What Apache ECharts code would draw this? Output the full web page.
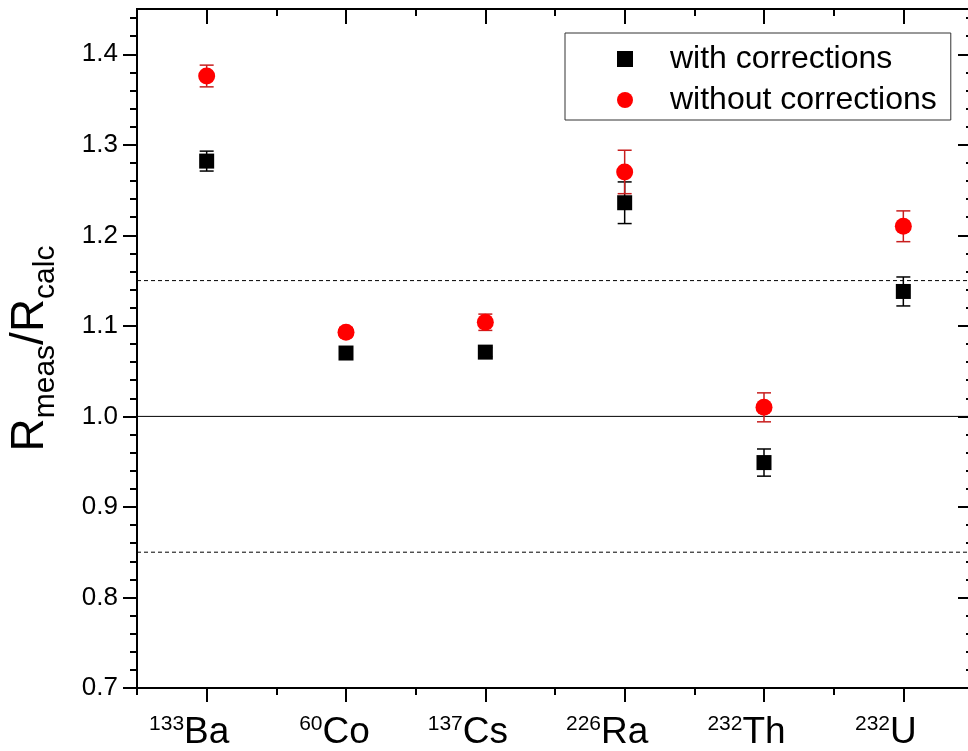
<!DOCTYPE html>
<html>
<head>
<meta charset="utf-8">
<title>R_meas / R_calc</title>
<script src="https://cdn.jsdelivr.net/npm/echarts@6/dist/echarts.min.js"></script>
<style>
  html, body { margin: 0; padding: 0; background: #fff; }
  #chart { width: 968px; height: 751px; }
</style>
</head>
<body>
<div id="chart"></div>
<script>
// nuclides on the x axis
const massNumbers = ['133', '60', '137', '226', '232', '232']
const elements = ['Ba', 'Co', 'Cs', 'Ra', 'Th', 'U']

// ratio R_meas / R_calc and its uncertainty
const withCorr = [1.282, 1.070, 1.071, 1.236, 0.949, 1.138]
const withCorrErr = [0.011, 0.005, 0.005, 0.023, 0.015, 0.016]
const withoutCorr = [1.376, 1.093, 1.104, 1.270, 1.010, 1.210]
const withoutCorrErr = [0.012, 0.005, 0.009, 0.024, 0.016, 0.017]

// reference lines
const unityLine = 1.0
const bandLines = [1.15, 0.85]

// y ticks
const yMajor = [0.7, 0.8, 0.9, 1.0, 1.1, 1.2, 1.3, 1.4]
const yMinor = []
for (let i = 36; i <= 72; i++) {
  if (i % 5 !== 0) yMinor.push(+(i * 0.02).toFixed(2))
}

const FONT = 'Liberation Sans, Arial, sans-serif'

const chart = echarts.init(document.getElementById('chart'))

const errData = (vals, errs) => vals.map((v, i) => [i, v - errs[i], v + errs[i]])

const errBar = (color) => (params, api) => {
  const x = api.value(0)
  const lo = api.coord([x, api.value(1)])
  const hi = api.coord([x, api.value(2)])
  const w = 7
  const style = { stroke: color, lineWidth: 1.5, fill: null }
  return {
    type: 'group',
    children: [
      { type: 'line', shape: { x1: lo[0], y1: lo[1], x2: hi[0], y2: hi[1] }, style },
      { type: 'line', shape: { x1: lo[0] - w, y1: lo[1], x2: lo[0] + w, y2: lo[1] }, style },
      { type: 'line', shape: { x1: hi[0] - w, y1: hi[1], x2: hi[0] + w, y2: hi[1] }, style },
    ],
  }
}

const axisLine = { show: true, lineStyle: { color: '#000', width: 2 } }
const tickStyle = { color: '#000', width: 2 }

const catAxis = (position, align, length, inside, labels) => ({
  type: 'category',
  position,
  data: elements,
  boundaryGap: true,
  axisLine,
  axisTick: { show: true, alignWithLabel: align, length, inside, lineStyle: tickStyle },
  axisLabel: labels || { show: false },
  splitLine: { show: false },
})

const valAxis = (position, ticks, length, inside, labels) => ({
  type: 'value',
  position,
  min: 0.7,
  max: 1.45,
  axisLine,
  axisTick: { show: true, customValues: ticks, length, inside, lineStyle: tickStyle },
  axisLabel: labels || { show: false },
  splitLine: { show: false },
})

const xLabels = {
  show: true,
  interval: 0,
  margin: 26,
  formatter: (val, idx) => {
    const m = massNumbers[idx]
    return '{sup|' + m + '}{b|' + val + '}{p' + m.length + '|}'
  },
  rich: {
    sup: { fontFamily: FONT, fontSize: 21, color: '#000', verticalAlign: 'top', lineHeight: 38 },
    b: { fontFamily: FONT, fontSize: 37, color: '#000', lineHeight: 38 },
    p2: { width: 23 },
    p3: { width: 35 },
  },
}

const yLabels = {
  show: true,
  customValues: yMajor,
  margin: 19,
  fontFamily: FONT,
  fontSize: 26,
  color: '#000',
  formatter: (v) => v.toFixed(1),
}

// horizontal reference line across the full plot width
const refLine = (v, type) => ({
  type: 'line',
  xAxisIndex: 4,
  yAxisIndex: 0,
  data: [[0, v], [1, v]],
  symbol: 'none',
  silent: true,
  lineStyle: { color: '#000', width: 1, type },
  z: 1,
})

chart.setOption({
  animation: false,
  backgroundColor: '#fff',
  grid: { left: 137, right: -5, top: 9, bottom: 63, containLabel: false, outerBoundsMode: 'none' },
  legend: {
    data: ['with corrections', 'without corrections'],
    orient: 'vertical',
    left: 565,
    top: 33,
    padding: [10, 14, 4, 52],
    itemWidth: 16,
    itemHeight: 16,
    itemGap: 9,
    backgroundColor: '#fff',
    borderColor: '#333',
    borderWidth: 1,
    borderRadius: 0,
    textStyle: { fontFamily: FONT, fontSize: 32, color: '#000', lineHeight: 30, padding: [0, 0, 0, 32] },
  },
  xAxis: [
    catAxis('bottom', true, 14, false, xLabels),
    catAxis('bottom', false, 7, false),
    catAxis('top', true, 15, true),
    catAxis('top', false, 7, true),
    { type: 'value', min: 0, max: 1, show: false },
  ],
  yAxis: [
    valAxis('left', yMajor, 14, false, yLabels),
    valAxis('left', yMinor, 7, false),
    valAxis('right', yMajor, 15, true),
    valAxis('right', yMinor, 7, true),
  ],
  series: [
    refLine(unityLine, 'solid'),
    ...bandLines.map((v) => refLine(v, [4, 3])),
    {
      name: 'err with',
      type: 'custom',
      renderItem: errBar('#000'),
      data: errData(withCorr, withCorrErr),
      encode: { x: 0, y: [1, 2] },
      z: 2,
      silent: true,
    },
    {
      name: 'err without',
      type: 'custom',
      renderItem: errBar('#c81e1e'),
      data: errData(withoutCorr, withoutCorrErr),
      encode: { x: 0, y: [1, 2] },
      z: 2,
      silent: true,
    },
    {
      name: 'with corrections',
      type: 'scatter',
      symbol: 'rect',
      symbolSize: 15,
      itemStyle: { color: '#000', opacity: 1 },
      data: withCorr.map((v, i) => [i, v]),
      z: 4,
    },
    {
      name: 'without corrections',
      type: 'scatter',
      symbol: 'circle',
      symbolSize: 17,
      itemStyle: { color: '#ff0000', opacity: 1 },
      data: withoutCorr.map((v, i) => [i, v]),
      z: 3,
    },
  ],
})

// y axis title with subscripts, rotated
chart.setOption({
  yAxis: [
    {
      name: '{r|R}{s|meas}{r|/R}{s|calc}',
      nameLocation: 'middle',
      nameGap: 76,
      nameRotate: 90,
      nameTextStyle: {
        rich: {
          r: { fontFamily: FONT, fontSize: 46, color: '#000', lineHeight: 50 },
          s: { fontFamily: FONT, fontSize: 30, color: '#000', verticalAlign: 'bottom', lineHeight: 62 },
        },
      },
    },
  ],
})

window.addEventListener('resize', () => chart.resize())
</script>
</body>
</html>
